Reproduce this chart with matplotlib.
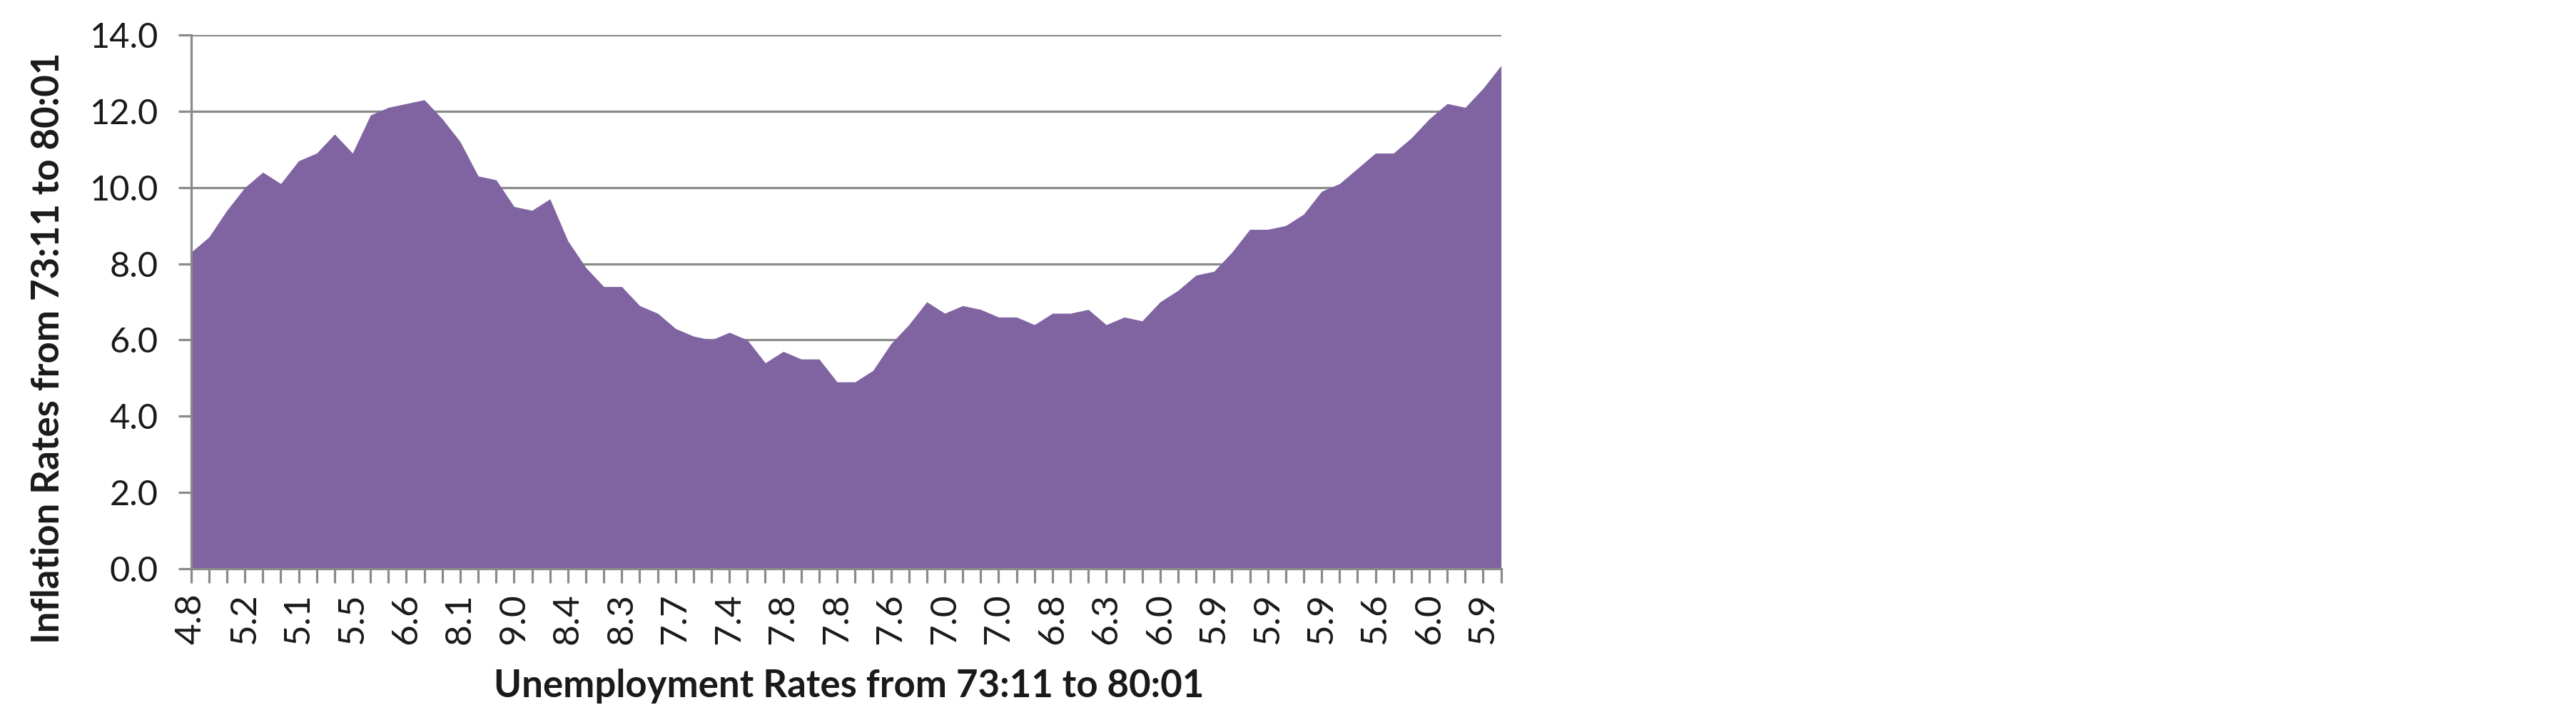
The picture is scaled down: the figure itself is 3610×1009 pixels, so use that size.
import matplotlib
matplotlib.use("Agg")
import matplotlib.pyplot as plt
import numpy as np

# inflation rate, one value per month 73:11 .. 80:01
inflation = [8.3, 8.7, 9.4, 10.0, 10.4, 10.1, 10.7, 10.9, 11.4, 10.9,
             11.9, 12.1, 12.2, 12.3, 11.8, 11.2, 10.3, 10.2, 9.5, 9.4,
             9.7, 8.6, 7.9, 7.4, 7.4, 6.9, 6.7, 6.3, 6.1, 6.0,
             6.2, 6.0, 5.4, 5.7, 5.5, 5.5, 4.9, 4.9, 5.2, 5.9,
             6.4, 7.0, 6.7, 6.9, 6.8, 6.6, 6.6, 6.4, 6.7, 6.7,
             6.8, 6.4, 6.6, 6.5, 7.0, 7.3, 7.7, 7.8, 8.3, 8.9,
             8.9, 9.0, 9.3, 9.9, 10.1, 10.5, 10.9, 10.9, 11.3, 11.8,
             12.2, 12.1, 12.6, 13.2]

# unemployment rate shown under every third month
unemp_labels = ["4.8", "5.2", "5.1", "5.5", "6.6", "8.1", "9.0", "8.4", "8.3",
                "7.7", "7.4", "7.8", "7.8", "7.6", "7.0", "7.0", "6.8", "6.3",
                "6.0", "5.9", "5.9", "5.9", "5.6", "6.0", "5.9"]
label_step = 3

y_ticks = [0, 2, 4, 6, 8, 10, 12, 14]

plt.rcParams['font.family'] = ['Lato', 'DejaVu Sans']

W, H = 3610, 1009
fig = plt.figure(figsize=(W / 100, H / 100), dpi=100)
x0, x1, ytop, ybot = 267.7, 2103.6, 49, 797
ax = fig.add_axes([x0 / W, 1 - ybot / H, (x1 - x0) / W, (ybot - ytop) / H])

x = np.arange(len(inflation))
ax.fill_between(x, inflation, 0, color='#8064A2', lw=0, zorder=2)

grid_c = '#8A8A8A'
ax.set_xlim(0, len(inflation) - 1)
ax.set_ylim(0, 14)
ax.set_yticks(y_ticks)
ax.set_yticklabels(["%.1f" % v for v in y_ticks])
ax.yaxis.grid(True, color=grid_c, lw=2.3)
ax.set_axisbelow(True)

ax.set_xticks(np.arange(0, len(unemp_labels) * label_step, label_step))
ax.set_xticklabels(unemp_labels, rotation=90)
ax.set_xticks(x, minor=True)

for s in ['top', 'right']:
    ax.spines[s].set_visible(False)
for s in ['left', 'bottom']:
    ax.spines[s].set_color(grid_c)
    ax.spines[s].set_linewidth(2.3)
    ax.spines[s].set_zorder(3)

ax.tick_params(axis='y', length=13, width=2.3, color=grid_c, pad=20,
               labelsize=35, labelcolor='#1a1a1a')
ax.tick_params(axis='x', which='both', length=14.5, width=2.3, color=grid_c,
               pad=10, labelsize=37, labelcolor='#1a1a1a')

fig.text(1190 / W, 1 - 962 / H, "Unemployment Rates from 73:11 to 80:01",
         ha='center', va='center', fontsize=38, fontweight='bold', color='#1a1a1a')
fig.text(68 / W, 1 - 488 / H, "Inflation Rates from 73:11 to 80:01",
         ha='center', va='center', rotation=90, fontsize=38, fontweight='bold',
         color='#1a1a1a')

fig.savefig("out.png", dpi=100, facecolor='white')
